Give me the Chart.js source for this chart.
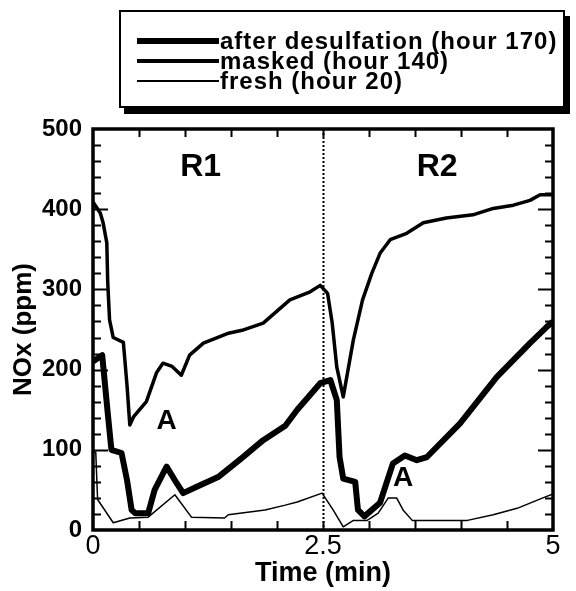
<!DOCTYPE html>
<html>
<head>
<meta charset="utf-8">
<script src="https://cdn.jsdelivr.net/npm/chart.js@4"></script>
<style>
  body { margin: 0; background: #fff; }
  #wrap { position: relative; width: 576px; height: 591px; }
  #legend {
    position: absolute; left: 119px; top: 10px; width: 446px; height: 98px;
    border: 2px solid #000; box-shadow: 5px 6px 0 #000; background: #fff;
    box-sizing: border-box; padding-top: 19px;
    font-family: "Liberation Sans", Arial, sans-serif; font-weight: bold; font-size: 24px;
    letter-spacing: 1px;
  }
  .row { display: flex; align-items: center; height: 20px; }
  .row span.line { display: inline-block; width: 82px; margin-left: 16px; background: #000; }
  .row span.txt { margin-left: 1px; line-height: 20px; }
</style>
</head>
<body>
<div id="wrap">
  <canvas id="grafico" width="576" height="591"></canvas>
  <div id="legend"></div>
</div>
<script>
// series: after desulfation (hour 170)
const desulfT = [0, 0.1, 0.16, 0.2, 0.31, 0.37, 0.42, 0.46, 0.6, 0.67, 0.8, 0.89, 0.98, 1.11, 1.36, 1.62, 1.85, 2.09, 2.22, 2.47, 2.58, 2.65, 2.68, 2.72, 2.85, 2.88, 2.95, 3.12, 3.26, 3.39, 3.52, 3.63, 3.99, 4.39, 4.75, 4.93, 5];
const desulfV = [210, 218, 146, 100, 96, 62, 25, 21, 21, 50, 79, 62, 46, 53, 66, 90, 112, 130, 150, 183, 187, 162, 91, 64, 60, 25, 17, 34, 83, 93, 87, 91, 133, 191, 233, 253, 260];

// series: masked (hour 140)
const maskedT = [0, 0.08, 0.11, 0.15, 0.16, 0.18, 0.22, 0.33, 0.37, 0.4, 0.44, 0.58, 0.69, 0.76, 0.86, 0.96, 1.05, 1.2, 1.46, 1.62, 1.85, 2.14, 2.36, 2.47, 2.55, 2.6, 2.65, 2.72, 2.83, 2.93, 3.03, 3.12, 3.23, 3.41, 3.59, 3.84, 4.13, 4.35, 4.57, 4.75, 4.86, 5];
const maskedV = [409, 395, 383, 358, 309, 262, 240, 234, 180, 131, 141, 160, 196, 208, 204, 193, 218, 233, 245, 249, 258, 287, 297, 305, 295, 258, 203, 166, 237, 287, 320, 345, 362, 370, 383, 389, 393, 401, 405, 411, 418, 418];

// series: fresh (hour 20)
const freshT = [0, 0.03, 0.05, 0.22, 0.4, 0.6, 0.89, 1.07, 1.43, 1.47, 1.87, 2.09, 2.22, 2.49, 2.61, 2.72, 2.83, 2.98, 3.1, 3.21, 3.3, 3.37, 3.47, 4.07, 4.35, 4.61, 4.89, 5];
const freshV = [97, 97, 38, 9, 15, 16, 44, 16, 15, 19, 25, 31, 35, 46, 25, 4, 12, 12, 21, 40, 40, 25, 12, 12, 19, 27, 40, 45];

const seriesNames = ['after desulfation (hour 170)', 'masked (hour 140)', 'fresh (hour 20)'];
const seriesWidths = [6, 3.5, 1.5];

const xLabels = [0, 2.5, 5];
const yLabels = [0, 100, 200, 300, 400, 500];
const regionLabels = [{ text: 'R1', t: 1.17, v: 453 }, { text: 'R2', t: 3.74, v: 453 }];
const peakLabels = [{ text: 'A', t: 0.8, v: 136 }, { text: 'A', t: 3.37, v: 64 }];

function pts(ts, vs) { return ts.map((t, i) => ({ x: t, y: vs[i] })); }

// legenda em html
const LEG = document.getElementById('legend');
seriesNames.forEach((n, i) => {
  const row = document.createElement('div');
  row.className = 'row';
  row.innerHTML = "<span class='line' style='height:" + seriesWidths[i] + "px'></span><span class='txt'>" + n + "</span>";
  LEG.appendChild(row);
});

// moldura, ticks para dentro, linha pontilhada e textos
const moldura = {
  id: 'moldura',
  afterDraw(chart) {
    const c = chart.ctx, a = chart.chartArea;
    const sx = chart.scales.x, sy = chart.scales.y;
    c.save();
    c.strokeStyle = '#000';
    c.lineWidth = 2;
    c.beginPath();
    for (let v = 20; v < 500; v += 20) {
      const y = Math.round(sy.getPixelForValue(v)) + 0.5;
      const len = v % 100 === 0 ? 15 : 8;
      c.moveTo(a.left, y); c.lineTo(a.left + len, y);
      c.moveTo(a.right, y); c.lineTo(a.right - len, y);
    }
    for (let t = 0.5; t < 5; t += 0.5) {
      const x = Math.round(sx.getPixelForValue(t)) + 0.5;
      c.moveTo(x, a.bottom); c.lineTo(x, a.bottom - 9);
      c.moveTo(x, a.top); c.lineTo(x, a.top + 8);
    }
    c.stroke();

    // linha pontilhada em 2.5
    const xm = Math.round(sx.getPixelForValue(2.5)) + 0.5;
    c.setLineDash([2, 2]);
    c.beginPath(); c.moveTo(xm, a.top); c.lineTo(xm, a.bottom); c.stroke();
    c.setLineDash([]);

    c.lineWidth = 3.5;
    c.strokeRect(a.left, a.top, a.right - a.left, a.bottom - a.top);

    c.fillStyle = '#000';
    c.textAlign = 'center';
    c.textBaseline = 'middle';
    c.font = 'bold 32px "Liberation Sans", Arial, sans-serif';
    regionLabels.forEach(l => c.fillText(l.text, sx.getPixelForValue(l.t), sy.getPixelForValue(l.v)));
    c.font = 'bold 28px "Liberation Sans", Arial, sans-serif';
    peakLabels.forEach(l => c.fillText(l.text, sx.getPixelForValue(l.t), sy.getPixelForValue(l.v)));
    c.restore();
  }
};

const fonte = '"Liberation Sans", Arial, sans-serif';

new Chart(document.getElementById('grafico'), {
  type: 'line',
  data: {
    datasets: [
      { label: seriesNames[0], data: pts(desulfT, desulfV), borderWidth: seriesWidths[0] },
      { label: seriesNames[1], data: pts(maskedT, maskedV), borderWidth: seriesWidths[1] },
      { label: seriesNames[2], data: pts(freshT, freshV), borderWidth: seriesWidths[2] }
    ].map(d => Object.assign(d, { borderColor: '#000', pointRadius: 0, tension: 0, fill: false, borderJoinStyle: 'round' }))
  },
  options: {
    responsive: false,
    animation: false,
    layout: { padding: { top: 129, right: 23, left: 0, bottom: 0 } },
    plugins: { legend: { display: false }, tooltip: { enabled: false } },
    scales: {
      x: {
        type: 'linear', min: 0, max: 5,
        afterFit: s => { s.height = 61; },
        grid: { display: false, drawTicks: false },
        border: { display: false },
        ticks: {
          stepSize: 0.5, autoSkip: false, maxRotation: 0, padding: 3, color: '#000',
          font: { family: fonte, size: 27, lineHeight: 1 },
          callback: v => xLabels.some(l => Math.abs(l - v) < 1e-6) ? String(v) : ''
        },
        title: {
          display: true, text: 'Time (min)', color: '#000',
          font: { family: fonte, size: 27, weight: 'bold', lineHeight: 1 },
          padding: { top: 0, bottom: 4 }
        }
      },
      y: {
        min: 0, max: 500,
        afterFit: s => { s.width = 93; },
        grid: { display: false, drawTicks: false },
        border: { display: false },
        ticks: {
          stepSize: 20, autoSkip: false, padding: 11, color: '#000',
          font: { family: fonte, size: 24, weight: 'bold' },
          callback: v => yLabels.includes(Math.round(v)) && Math.abs(v - Math.round(v)) < 1e-6 ? String(Math.round(v)) : ''
        },
        title: {
          display: true, text: 'NOx (ppm)', color: '#000',
          font: { family: fonte, size: 26, weight: 'bold', lineHeight: 1 },
          padding: { top: 11, bottom: 0 }
        }
      }
    }
  },
  plugins: [moldura]
});
</script>
</body>
</html>
